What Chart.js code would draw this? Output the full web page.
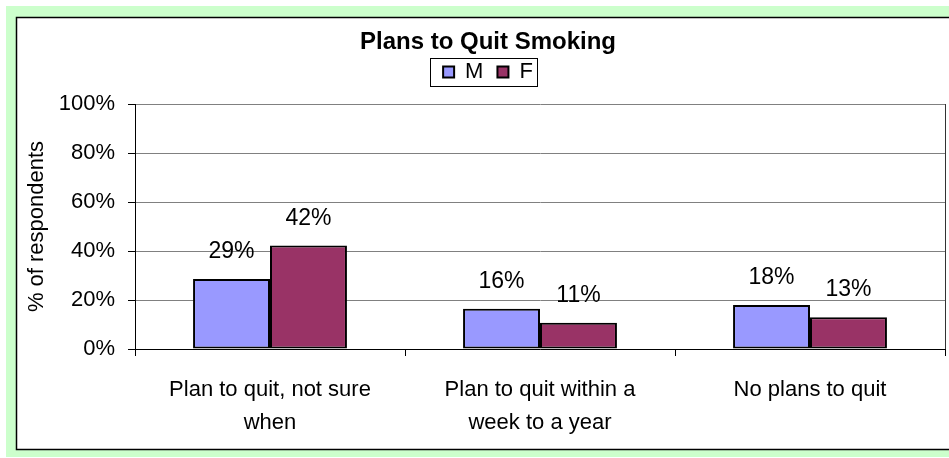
<!DOCTYPE html>
<html><head><meta charset="utf-8">
<script src="https://cdn.jsdelivr.net/npm/chart.js@4"></script>
<style>html,body{margin:0;padding:0;background:#fff;}#wrap{width:949px;height:458px;position:relative}</style>
</head><body><div id="wrap"><canvas id="c" width="949" height="458"></canvas></div>
<script>
const categories = [["Plan to quit, not sure", "when"], ["Plan to quit within a", "week to a year"], ["No plans to quit"]];
const seriesNames = ["M", "F"];
const valuesM = [28.6, 16.4, 18.0];
const valuesF = [42.2, 10.7, 13.0];
const labelsM = ["29%", "16%", "18%"];
const labelsF = ["42%", "11%", "13%"];
const yTicks = [0, 20, 40, 60, 80, 100];
const chartTitle = "Plans to Quit Smoking";
const yTitle = "% of respondents";

const FONT = "'Liberation Sans', Arial, sans-serif";

const framePlugin = {
  id: 'frame',
  beforeDraw(chart) {
    const ctx = chart.ctx;
    ctx.save();
    ctx.fillStyle = '#ffffff';
    ctx.fillRect(0, 0, chart.width, chart.height);
    ctx.fillStyle = '#CCFFCC';
    ctx.fillRect(6, 6, chart.width - 6, chart.height - 7);
    ctx.fillStyle = '#ffffff';
    ctx.fillRect(16, 17, chart.width, 433);
    ctx.strokeStyle = '#000';
    ctx.lineWidth = 1.5;
    ctx.strokeRect(16.5, 17.5, chart.width + 20, 432);
    ctx.restore();
  }
};

const dataLabelPlugin = {
  id: 'dataLabels',
  afterDatasetsDraw(chart) {
    const ctx = chart.ctx;
    const all = [labelsM, labelsF];
    ctx.save();
    ctx.font = "23px " + FONT;
    ctx.fillStyle = '#000';
    ctx.textAlign = 'center';
    ctx.textBaseline = 'alphabetic';
    chart.data.datasets.forEach((ds, di) => {
      const meta = chart.getDatasetMeta(di);
      meta.data.forEach((bar, i) => {
        ctx.fillText(all[di][i], bar.x, bar.y - 21);
      });
    });
    ctx.restore();
  }
};

const legendBoxPlugin = {
  id: 'legendBox',
  afterDraw(chart) {
    const lg = chart.legend;
    if (!lg || !lg.legendHitBoxes || !lg.legendHitBoxes.length) return;
    const hb = lg.legendHitBoxes;
    let l = Infinity, r = -Infinity, t = Infinity, b = -Infinity;
    hb.forEach(h => { l = Math.min(l, h.left); r = Math.max(r, h.left + h.width); t = Math.min(t, h.top); b = Math.max(b, h.top + h.height); });
    const ctx = chart.ctx;
    ctx.save();
    ctx.strokeStyle = '#000';
    ctx.lineWidth = 1;
    ctx.strokeRect(Math.round(l - 13) + 0.5, Math.round(t - 3) + 0.5, Math.round(r - l + 17), Math.round(b - t + 6));
    ctx.restore();
  }
};

const PAD_L = 31, PAD_B = 21;

new Chart(document.getElementById('c'), {
  type: 'bar',
  data: {
    labels: categories,
    datasets: [
      { label: seriesNames[0], data: valuesM, backgroundColor: '#9999FF', borderColor: '#000', borderWidth: 2, borderSkipped: false },
      { label: seriesNames[1], data: valuesF, backgroundColor: '#993366', borderColor: '#000', borderWidth: 2, borderSkipped: false }
    ]
  },
  options: {
    responsive: false,
    devicePixelRatio: 1,
    animation: false,
    datasets: { bar: { categoryPercentage: 0.57, barPercentage: 1.0 } },
    layout: { padding: { left: PAD_L, right: 4, top: 30, bottom: PAD_B } },
    plugins: {
      title: { display: true, text: chartTitle, color: '#000', font: { family: FONT, size: 24, weight: 'bold', lineHeight: 1 }, padding: { top: 0, bottom: -7 } },
      subtitle: { display: true, text: '', weight: 500, position: 'top', font: { size: 1, lineHeight: 1 }, padding: { top: 0, bottom: 10 } },
      legend: {
        display: true, position: 'top',
        labels: { color: '#000', font: { family: FONT, size: 22 }, boxWidth: 11, boxHeight: 11, padding: 14, useBorderRadius: false }
      },
      tooltip: { enabled: false }
    },
    scales: {
      x: {
        afterFit: s => { s.height = 458 - PAD_B - 349; },
        grid: { offset: true, drawOnChartArea: true, color: c => c.type === 'tick' ? 'rgba(0,0,0,0)' : '#333', tickColor: '#000', tickLength: 7, lineWidth: 1 },
        border: { display: true, color: '#000', width: 1 },
        ticks: { color: '#000', font: { family: FONT, size: 22, lineHeight: 1.5 }, padding: 17, maxRotation: 0, autoSkip: false }
      },
      y: {
        min: 0, max: 100,
        afterFit: s => { s.width = 135 - PAD_L; },
        afterBuildTicks: s => { s.ticks = yTicks.map(v => ({ value: v })); },
        ticks: { color: '#000', font: { family: FONT, size: 22 }, padding: 13, callback: v => v + '%' },
        grid: { color: '#808080', tickColor: '#000', tickLength: 7, lineWidth: 1 },
        border: { display: true, color: '#000', width: 1 },
        title: { display: true, text: yTitle, color: '#000', font: { family: FONT, size: 22, lineHeight: 0.55 }, padding: { top: 0, bottom: 0 } }
      }
    }
  },
  plugins: [framePlugin, dataLabelPlugin, legendBoxPlugin]
});
</script>
</body></html>
